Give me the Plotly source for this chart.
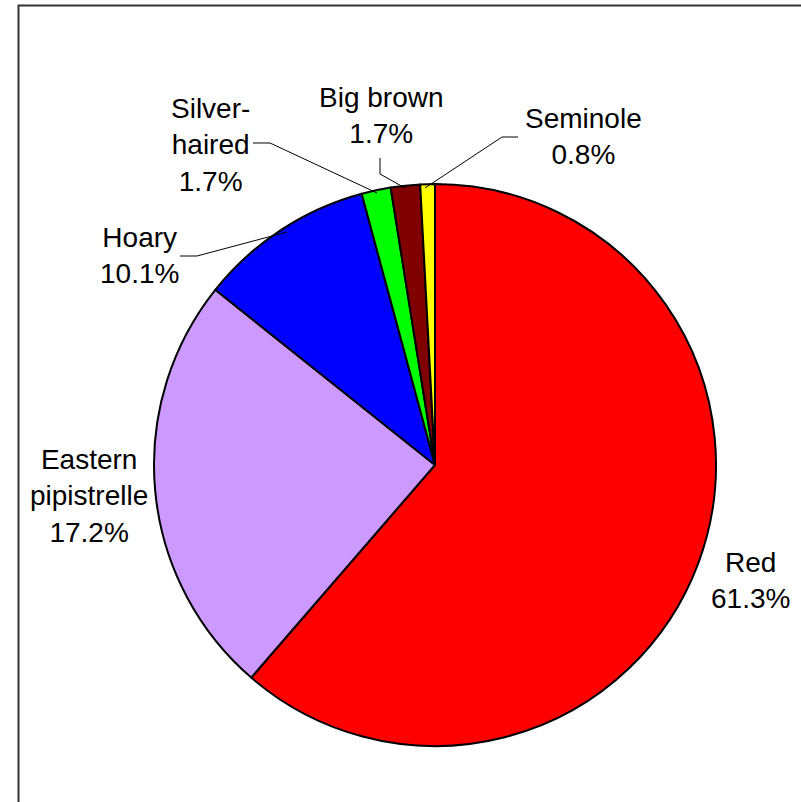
import plotly.graph_objects as go

# bat species, counts of individuals (slice sizes) and the printed labels
species = ['Red', 'Eastern pipistrelle', 'Hoary', 'Silver-haired', 'Big brown', 'Seminole']
counts = [73, 29, 12, 2, 2, 1]
label_text = ['Red<br>61.3%', 'Eastern<br>pipistrelle<br>17.2%', 'Hoary<br>10.1%',
              'Silver-<br>haired<br>1.7%', 'Big brown<br>1.7%', 'Seminole<br>0.8%']
colors = ['#FF0000', '#CC99FF', '#0000FF', '#00FF00', '#800000', '#FFFF00']

W, H = 801, 802


def px(x):
    return x / W


def py(y):
    return 1 - y / H


fig = go.Figure()
fig.add_pie(labels=species, values=counts, sort=False, direction='clockwise',
            rotation=0, textinfo='none', hoverinfo='label+value+percent',
            marker=dict(colors=colors, line=dict(color='black', width=2)),
            domain=dict(x=[px(154), px(716)], y=[py(746), py(184)]),
            showlegend=False)

# label positions (pixel centres)
label_pos = [(750, 580), (89, 496), (139, 255), (211, 145), (381, 116), (583, 137)]
for txt, (x, y) in zip(label_text, label_pos):
    fig.add_annotation(x=px(x), y=py(y), xref='paper', yref='paper', text=txt,
                       showarrow=False, xanchor='center', yanchor='middle', align='center',
                       font=dict(size=28, color='black'))

# leader lines
leaders = [
    [(180, 256), (197, 256), (287, 232)],
    [(253, 143), (270, 143), (377, 193)],
    [(380, 158), (380, 174), (405, 188)],
    [(518, 137), (502, 137), (425, 188)],
]
for pts in leaders:
    path = 'M ' + ' L '.join('%f,%f' % (px(x), py(y)) for x, y in pts)
    fig.add_shape(type='path', path=path, xref='paper', yref='paper',
                  line=dict(color='black', width=1))

# chart border
fig.add_shape(type='rect', xref='paper', yref='paper',
              x0=px(18.5), y0=-0.05, x1=1.05, y1=py(5.5),
              line=dict(color='#333333', width=2))

fig.update_layout(width=W, height=H, margin=dict(l=0, r=0, t=0, b=0),
                  paper_bgcolor='white', plot_bgcolor='white',
                  font=dict(family='Liberation Sans, Arial, sans-serif', color='black'))

# page body margin would push the figure 8px off
fig.write_html("out.html", config={'displayModeBar': False},
               post_script="document.body.style.margin='0px';")
